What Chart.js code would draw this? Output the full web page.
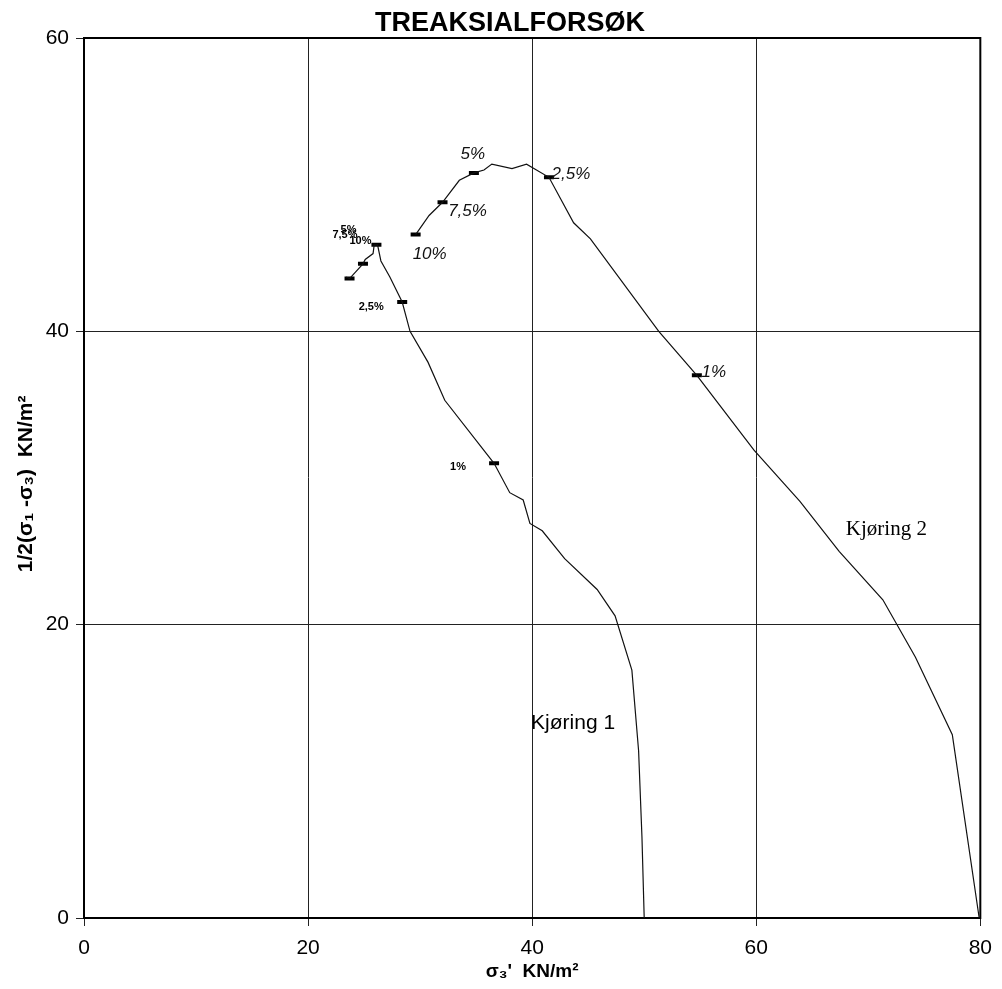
<!DOCTYPE html>
<html><head><meta charset="utf-8">
<script src="https://cdn.jsdelivr.net/npm/chart.js@4.4.1/dist/chart.umd.min.js"></script>
<style>html,body{margin:0;padding:0;background:#fff}#wrap{width:1002px;height:989px}</style>
</head><body><div id="wrap"><canvas id="c" width="1002" height="989"></canvas></div>
<script>
// ---- data ----
const chartTitle = 'TREAKSIALFORSØK';
const xAxisTitle = 'σ₃\'  KN/m²';
const yAxisTitle = '1/2(σ₁ -σ₃)  KN/m²  ';
const xTicks = [0, 20, 40, 60, 80];
const yTicks = [0, 20, 40, 60];
const seriesNames = ['Kjøring 1', 'Kjøring 2'];

const run1X = [50.0, 49.8, 49.5, 48.9, 47.4, 45.8, 42.9, 40.9, 39.8, 39.2, 38.0, 36.6, 32.2, 30.7, 29.1, 28.4, 27.3, 26.5, 26.2, 25.9, 25.8, 25.1, 24.9, 23.7, 23.4];
const run1Y = [0, 5.5, 11.4, 16.9, 20.6, 22.4, 24.5, 26.4, 26.9, 28.5, 29.0, 31.0, 35.3, 37.9, 40.0, 42.0, 43.7, 44.8, 45.9, 45.9, 45.3, 44.9, 44.6, 43.6, 43.7];
const run1MarkX = [36.6, 28.4, 26.1, 24.9, 23.7];
const run1MarkY = [31.0, 42.0, 45.9, 44.6, 43.6];
const run1MarkLabels = ['1%', '2,5%', '10%', '7,5%', '5%'];

const run2X = [79.9, 77.5, 74.2, 71.3, 67.4, 63.9, 59.8, 56.9, 54.7, 51.3, 45.2, 43.7, 41.5, 39.5, 38.2, 36.4, 35.7, 34.8, 33.5, 32.0, 30.8, 29.6];
const run2Y = [0, 12.5, 17.8, 21.7, 25.0, 28.4, 31.9, 34.8, 37.0, 40.0, 46.3, 47.4, 50.5, 51.4, 51.1, 51.4, 51.0, 50.8, 50.3, 48.8, 47.9, 46.6];
const run2MarkX = [54.7, 41.5, 34.8, 32.0, 29.6];
const run2MarkY = [37.0, 50.5, 50.8, 48.8, 46.6];
const run2MarkLabels = ['1%', '2,5%', '5%', '7,5%', '10%'];

// ---- styling / placement ----
const FONT = "'Liberation Sans', Arial, sans-serif";
const run1LabelOffsets = [[-36, 4], [-31, 5], [-16, -4], [-18, -29], [-1, -49]];
const run2LabelOffsets = [[17, -3], [22, -3], [-1, -19], [25, 9], [14, 20]];
const nameAnchors = [[39.9, 13.3], [68.0, 26.5]];

const pts = (xs, ys) => xs.map((x, i) => ({x: x, y: ys[i]}));

const annot = {
  id: 'annot',
  beforeDatasetsDraw(chart) {
    const {ctx, chartArea: a} = chart;
    ctx.save();
    ctx.strokeStyle = '#000';
    ctx.lineWidth = 2;
    ctx.strokeRect(a.left, a.top, a.right - a.left, a.bottom - a.top);
    ctx.restore();
  },
  afterDraw(chart) {
    const {ctx} = chart;
    const xs = chart.scales.x, ys = chart.scales.y;
    ctx.save();
    ctx.fillStyle = '#000';
    // title
    ctx.font = 'bold 27px ' + FONT;
    ctx.textAlign = 'center';
    ctx.textBaseline = 'alphabetic';
    ctx.fillText(chartTitle, 510, 31);
    // run 1 labels (small bold)
    ctx.font = 'bold 11px ' + FONT;
    ctx.textBaseline = 'middle';
    run1MarkLabels.forEach((t, i) => {
      const px = xs.getPixelForValue(run1MarkX[i]) + run1LabelOffsets[i][0];
      const py = ys.getPixelForValue(run1MarkY[i]) + run1LabelOffsets[i][1];
      ctx.fillText(t, px, py);
    });
    // run 2 labels (handwritten style)
    ctx.font = 'italic 17px ' + FONT;
    ctx.fillStyle = '#111';
    run2MarkLabels.forEach((t, i) => {
      const px = xs.getPixelForValue(run2MarkX[i]) + run2LabelOffsets[i][0];
      const py = ys.getPixelForValue(run2MarkY[i]) + run2LabelOffsets[i][1];
      ctx.fillText(t, px, py);
    });
    // series names
    ctx.fillStyle = '#000';
    ctx.textAlign = 'left';
    ctx.font = '21px ' + FONT;
    ctx.fillText(seriesNames[0], xs.getPixelForValue(nameAnchors[0][0]), ys.getPixelForValue(nameAnchors[0][1]));
    ctx.font = "21px 'Liberation Serif', 'Times New Roman', serif";
    ctx.fillText(seriesNames[1], xs.getPixelForValue(nameAnchors[1][0]), ys.getPixelForValue(nameAnchors[1][1]));
    ctx.restore();
  }
};

const lineDs = (label, d) => ({
  label: label, data: d, showLine: true, borderColor: '#111', borderWidth: 1.2,
  pointRadius: 0, tension: 0, fill: false
});
const markDs = (label, d) => ({
  label: label, data: d, showLine: false, pointStyle: 'line', pointRadius: 5,
  pointBorderWidth: 4, pointBorderColor: '#000', borderColor: '#000', backgroundColor: '#000'
});

new Chart(document.getElementById('c'), {
  type: 'scatter',
  data: {
    datasets: [
      lineDs(seriesNames[0], pts(run1X, run1Y)),
      lineDs(seriesNames[1], pts(run2X, run2Y)),
      markDs(seriesNames[0] + ' markers', pts(run1MarkX, run1MarkY)),
      markDs(seriesNames[1] + ' markers', pts(run2MarkX, run2MarkY))
    ]
  },
  options: {
    responsive: false, animation: false, devicePixelRatio: 1,
    layout: {padding: {top: 38, right: 18, left: 0, bottom: 0}},
    plugins: {legend: {display: false}, tooltip: {enabled: false}, title: {display: false}},
    scales: {
      x: {
        type: 'linear', min: 0, max: 80,
        afterBuildTicks: s => { s.ticks = xTicks.map(v => ({value: v})); },
        afterFit: s => { s.height = 71; },
        grid: {color: '#222', lineWidth: 1, tickLength: 8, tickColor: '#222'},
        border: {display: true, color: '#000', width: 2},
        ticks: {color: '#000', padding: 10, font: {family: FONT, size: 21}, maxRotation: 0},
        title: {display: true, text: xAxisTitle, color: '#000', font: {family: FONT, size: 19, weight: 'bold'}, padding: {top: 0, bottom: 6}}
      },
      y: {
        type: 'linear', min: 0, max: 60,
        afterBuildTicks: s => { s.ticks = yTicks.map(v => ({value: v})); },
        afterFit: s => { s.width = 84; },
        grid: {color: '#222', lineWidth: 1, tickLength: 8, tickColor: '#222'},
        border: {display: true, color: '#000', width: 2},
        ticks: {color: '#000', padding: 7, font: {family: FONT, size: 21}},
        title: {display: true, text: yAxisTitle, color: '#000', font: {family: FONT, size: 21, weight: 'bold'}, padding: {top: 14, bottom: 0}}
      }
    }
  },
  plugins: [annot]
});
</script>
</body></html>
